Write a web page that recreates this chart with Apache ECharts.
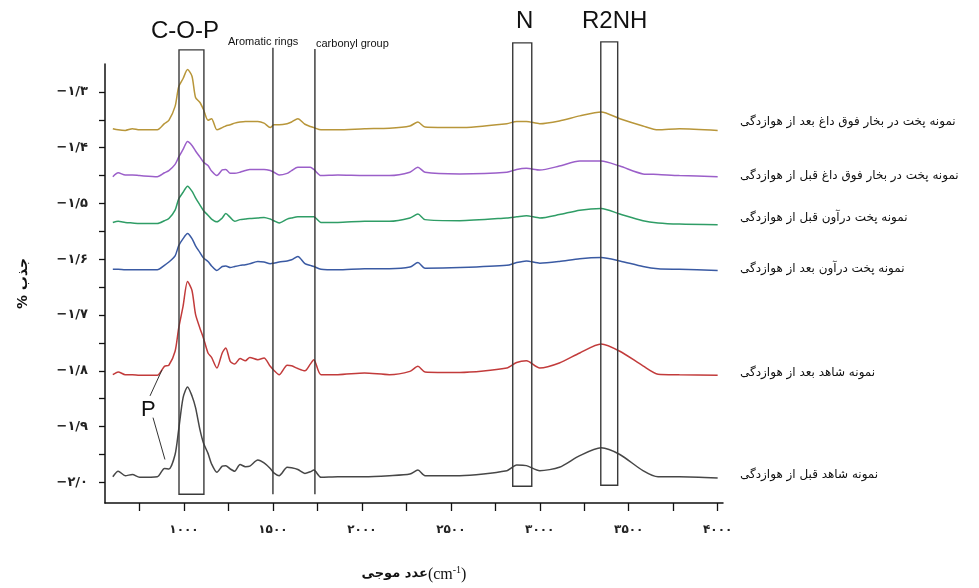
<!DOCTYPE html>
<html>
<head>
<meta charset="utf-8">
<script src="https://cdn.jsdelivr.net/npm/echarts@6/dist/echarts.min.js"></script>
<style>
  html, body { margin: 0; padding: 0; background: #fff; }
  #chart { width: 979px; height: 588px; }
</style>
</head>
<body>
<div id="chart"></div>
<script>
// wavenumber grid (cm-1) shared by all spectra
const wavenumbers = [600, 630, 670, 710, 750, 850, 890, 915, 950, 970, 995, 1020, 1045, 1065, 1090, 1110, 1135, 1155, 1185, 1215,
  1235, 1260, 1285, 1315, 1345, 1370, 1415, 1450, 1485, 1505, 1535, 1580, 1605, 1640, 1680, 1710, 1730, 1770, 1865, 2015,
  2155, 2270, 2315, 2355, 2550, 2815, 2870, 2925, 3000, 3110, 3225, 3345, 3450, 3580, 3665, 3785, 4000];

const steamAfter = [-1.366, -1.368, -1.369, -1.366, -1.368, -1.368, -1.357, -1.351, -1.326, -1.291,
  -1.276, -1.260, -1.272, -1.310, -1.319, -1.332, -1.351, -1.348, -1.368, -1.364,
  -1.361, -1.359, -1.356, -1.354, -1.353, -1.353, -1.353, -1.356, -1.364, -1.359,
  -1.359, -1.357, -1.354, -1.348, -1.358, -1.362, -1.364, -1.368, -1.368, -1.366,
  -1.365, -1.361, -1.354, -1.363, -1.364, -1.357, -1.353, -1.353, -1.357, -1.352,
  -1.343, -1.336, -1.348, -1.361, -1.368, -1.366, -1.369];
const steamBefore = [-1.452, -1.445, -1.449, -1.449, -1.450, -1.452, -1.445, -1.441, -1.430, -1.417,
  -1.403, -1.389, -1.396, -1.406, -1.417, -1.426, -1.432, -1.442, -1.450, -1.440,
  -1.439, -1.446, -1.446, -1.444, -1.441, -1.439, -1.439, -1.439, -1.441, -1.444,
  -1.449, -1.446, -1.441, -1.435, -1.435, -1.435, -1.439, -1.450, -1.449, -1.450,
  -1.450, -1.444, -1.435, -1.444, -1.447, -1.444, -1.439, -1.437, -1.440, -1.433,
  -1.424, -1.424, -1.433, -1.447, -1.448, -1.450, -1.452];
const ovenBefore = [-1.534, -1.532, -1.534, -1.535, -1.536, -1.536, -1.531, -1.527, -1.512, -1.492,
  -1.480, -1.469, -1.478, -1.490, -1.503, -1.513, -1.521, -1.528, -1.533, -1.526,
  -1.518, -1.525, -1.532, -1.529, -1.528, -1.527, -1.526, -1.525, -1.528, -1.531,
  -1.535, -1.528, -1.526, -1.524, -1.524, -1.524, -1.524, -1.534, -1.534, -1.532,
  -1.532, -1.526, -1.519, -1.529, -1.531, -1.526, -1.524, -1.522, -1.526, -1.520,
  -1.512, -1.509, -1.519, -1.531, -1.535, -1.537, -1.538];
const ovenAfter = [-1.618, -1.618, -1.619, -1.619, -1.619, -1.619, -1.611, -1.605, -1.594, -1.576,
  -1.563, -1.554, -1.563, -1.576, -1.588, -1.598, -1.604, -1.612, -1.620, -1.613,
  -1.612, -1.615, -1.613, -1.611, -1.610, -1.608, -1.604, -1.605, -1.608, -1.607,
  -1.605, -1.603, -1.601, -1.595, -1.608, -1.611, -1.613, -1.618, -1.619, -1.617,
  -1.617, -1.614, -1.606, -1.616, -1.615, -1.611, -1.606, -1.603, -1.607, -1.604,
  -1.599, -1.597, -1.603, -1.613, -1.617, -1.618, -1.620];
const controlAfter = [-1.807, -1.802, -1.807, -1.807, -1.808, -1.808, -1.792, -1.790, -1.765, -1.724,
  -1.684, -1.640, -1.656, -1.699, -1.724, -1.742, -1.768, -1.776, -1.795, -1.768,
  -1.759, -1.783, -1.788, -1.778, -1.782, -1.776, -1.780, -1.777, -1.792, -1.799,
  -1.807, -1.790, -1.791, -1.796, -1.800, -1.788, -1.780, -1.807, -1.807, -1.804,
  -1.807, -1.801, -1.792, -1.802, -1.803, -1.795, -1.785, -1.782, -1.795, -1.786,
  -1.768, -1.752, -1.765, -1.791, -1.806, -1.807, -1.808];
const controlBefore = [-1.990, -1.980, -1.988, -1.986, -1.991, -1.990, -1.975, -1.976, -1.950, -1.906,
  -1.848, -1.829, -1.845, -1.866, -1.906, -1.930, -1.948, -1.967, -1.982, -1.971,
  -1.970, -1.976, -1.980, -1.968, -1.972, -1.971, -1.960, -1.965, -1.975, -1.983,
  -1.988, -1.973, -1.974, -1.977, -1.984, -1.981, -1.978, -1.991, -1.990, -1.990,
  -1.988, -1.985, -1.978, -1.988, -1.988, -1.979, -1.969, -1.970, -1.979, -1.973,
  -1.952, -1.938, -1.950, -1.979, -1.990, -1.990, -1.992];

const seriesNames = [
  'نمونه پخت در بخار فوق داغ بعد از هوازدگی',
  'نمونه پخت در بخار فوق داغ قبل از هوازدگی',
  'نمونه پخت درآون قبل از هوازدگی',
  'نمونه پخت درآون بعد از هوازدگی',
  'نمونه شاهد بعد از هوازدگی',
  'نمونه شاهد قبل از هوازدگی'
];
const seriesValues = [steamAfter, steamBefore, ovenBefore, ovenAfter, controlAfter, controlBefore];

const yTickValues = [-2.0, -1.9, -1.8, -1.7, -1.6, -1.5, -1.4, -1.3];
const yTickLabels = ['−۲/۰', '−۱/۹', '−۱/۸', '−۱/۷', '−۱/۶', '−۱/۵', '−۱/۴', '−۱/۳'];
const yMinorTicks = [-2.0, -1.95, -1.9, -1.85, -1.8, -1.75, -1.7, -1.65, -1.6, -1.55, -1.5, -1.45, -1.4, -1.35, -1.3];
const xTickValues = [1000, 1500, 2000, 2500, 3000, 3500, 4000];
const xTickLabels = ['۱۰۰۰', '۱۵۰۰', '۲۰۰۰', '۲۵۰۰', '۳۰۰۰', '۳۵۰۰', '۴۰۰۰'];
const xMinorTicks = [750, 1000, 1250, 1500, 1750, 2000, 2250, 2500, 2750, 3000, 3250, 3500, 3750, 4000];

// annotation boxes: [from wn, to wn, top, bottom]
const bandBoxes = [[972, 1112, -1.2246, -2.0214], [2848, 2955, -1.2121, -2.0071], [3343, 3438, -1.2103, -2.0053]];
// annotation lines: [wn1, y1, wn2, y2]
const bandLines = [[1500, -1.221, 1500, -2.0214], [1736, -1.223, 1736, -2.0214],
  [876, -1.7986, 809, -1.845], [893, -1.959, 826, -1.884]];

const colors = ['#b8963a', '#9b5fc9', '#2f9d66', '#3a5aa3', '#c23b3b', '#474747'];
const labelTops = [116, 170, 212, 263, 367, 469];

const persianFont = '"DejaVu Sans", sans-serif';

let chart = echarts.init(document.getElementById('chart'));

let lineSeries = seriesValues.map((vals, i) => ({
  name: seriesNames[i],
  type: 'line',
  data: wavenumbers.map((w, j) => [w, vals[j]]),
  showSymbol: false,
  smooth: 0.25,
  lineStyle: { color: colors[i], width: 1.5 },
  itemStyle: { color: colors[i] },
  silent: true,
  z: 3
}));

lineSeries.push({
  type: 'custom',
  silent: true,
  clip: false,
  data: bandBoxes,
  encode: { x: [0, 1], y: [2, 3] },
  renderItem: function (params, api) {
    let p1 = api.coord([api.value(0), api.value(2)]);
    let p2 = api.coord([api.value(1), api.value(3)]);
    return {
      type: 'rect',
      shape: { x: p1[0], y: p1[1], width: p2[0] - p1[0], height: p2[1] - p1[1] },
      style: { fill: 'none', stroke: '#3a3a3a', lineWidth: 1.4 }
    };
  },
  z: 4
});

lineSeries.push({
  type: 'custom',
  silent: true,
  clip: false,
  data: bandLines,
  encode: { x: [0, 2], y: [1, 3] },
  renderItem: function (params, api) {
    let p1 = api.coord([api.value(0), api.value(1)]);
    let p2 = api.coord([api.value(2), api.value(3)]);
    return {
      type: 'line',
      shape: { x1: p1[0], y1: p1[1], x2: p2[0], y2: p2[1] },
      style: { stroke: '#333', lineWidth: params.dataIndex < 2 ? 1.4 : 1 }
    };
  },
  z: 4
});

let textGraphics = seriesNames.map((name, i) => ({
  type: 'text',
  left: 740,
  top: labelTops[i],
  style: { text: name, font: '12px ' + persianFont, fill: '#111' }
}));

textGraphics.push(
  { type: 'text', left: 151, top: 19, style: { text: 'C-O-P', font: '24px "Liberation Sans", Arial', fill: '#111' } },
  { type: 'text', left: 228, top: 36, style: { text: 'Aromatic rings', font: '11px "Liberation Sans", Arial', fill: '#111' } },
  { type: 'text', left: 316, top: 38, style: { text: 'carbonyl group', font: '11px "Liberation Sans", Arial', fill: '#111' } },
  { type: 'text', left: 516, top: 9, style: { text: 'N', font: '24px "Liberation Sans", Arial', fill: '#111' } },
  { type: 'text', left: 582, top: 9, style: { text: 'R2NH', font: '24px "Liberation Sans", Arial', fill: '#111' } },
  { type: 'text', left: 141, top: 399, style: { text: 'P', font: '22px "Liberation Sans", Arial', fill: '#111' } }
);

var option = {
  backgroundColor: '#fff',
  animation: false,
  grid: { left: 105, right: 256, top: 64, bottom: 82, containLabel: false },
  xAxis: {
    type: 'value',
    min: 556,
    max: 4030,
    name: '{b|عدد موجی}{a|(cm}{s|-1}{a|)}',
    nameLocation: 'middle',
    nameGap: 62,
    nameTextStyle: {
      rich: {
        a: { fontFamily: '"Liberation Serif", serif', fontSize: 16, color: '#111', verticalAlign: 'bottom' },
        s: { fontFamily: '"Liberation Serif", serif', fontSize: 10, color: '#111', verticalAlign: 'top', padding: [0, 0, 8, 0] },
        b: { fontFamily: persianFont, fontSize: 13, fontWeight: 'bold', color: '#111' }
      }
    },
    splitLine: { show: false },
    axisLine: { show: true, onZero: false, lineStyle: { color: '#111', width: 1.5 } },
    axisTick: { show: true, customValues: xMinorTicks, length: 8, lineStyle: { color: '#111', width: 1.3 } },
    axisLabel: {
      customValues: xTickValues,
      margin: 21,
      fontFamily: persianFont,
      fontSize: 12,
      fontWeight: 'bold',
      color: '#222',
      formatter: function (value) {
        let i = xTickValues.indexOf(value);
        return i >= 0 ? xTickLabels[i] : '';
      }
    }
  },
  yAxis: {
    type: 'value',
    min: -2.037,
    max: -1.25,
    name: '% جذب',
    nameLocation: 'middle',
    nameGap: 75,
    nameTextStyle: { fontFamily: persianFont, fontSize: 14, fontWeight: 'bold', color: '#111' },
    splitLine: { show: false },
    axisLine: { show: true, onZero: false, lineStyle: { color: '#111', width: 1.5 } },
    axisTick: { show: true, customValues: yMinorTicks, length: 6, lineStyle: { color: '#111', width: 1.3 } },
    axisLabel: {
      customValues: yTickValues,
      margin: 17,
      fontFamily: persianFont,
      fontSize: 13,
      fontWeight: 'bold',
      color: '#222',
      formatter: function (value) {
        let i = yTickValues.findIndex((v) => Math.abs(v - value) < 1e-6);
        return i >= 0 ? yTickLabels[i] : '';
      }
    }
  },
  graphic: textGraphics,
  series: lineSeries
};

chart.setOption(option);
</script>
</body>
</html>
